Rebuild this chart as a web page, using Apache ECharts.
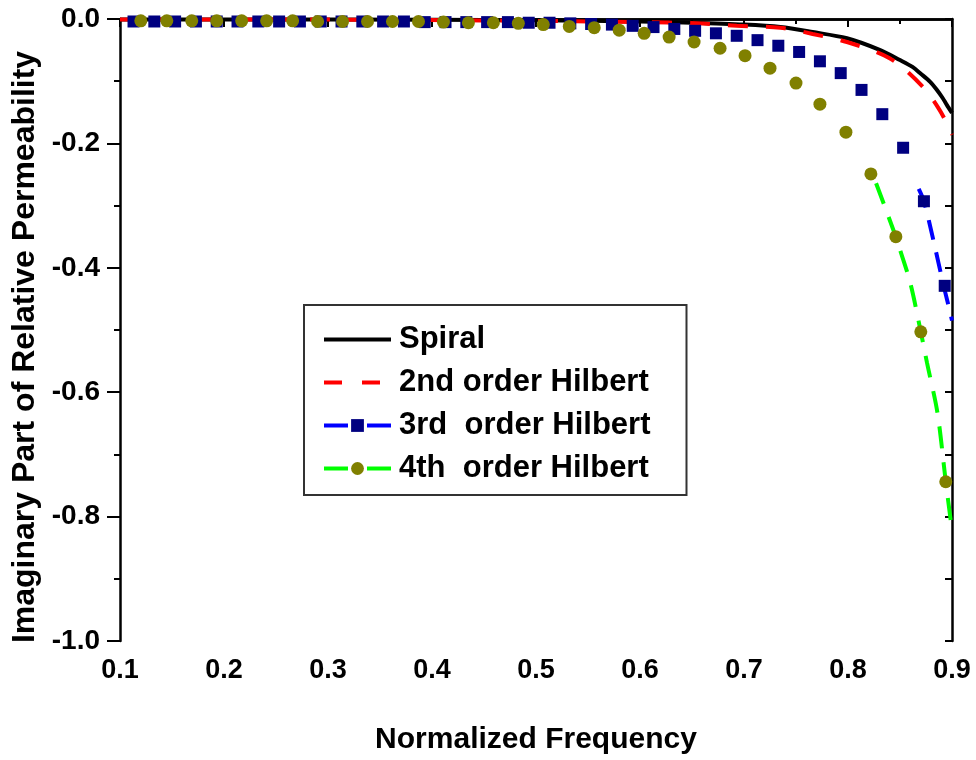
<!DOCTYPE html>
<html><head><meta charset="utf-8">
<script src="https://cdn.jsdelivr.net/npm/echarts@6/dist/echarts.min.js"></script>
<style>html,body{margin:0;padding:0;background:#fff}#c{width:976px;height:760px}</style>
</head><body><div id="c"></div>
<script>
var xTicks = ['0.1','0.2','0.3','0.4','0.5','0.6','0.7','0.8','0.9'];
var yTicks = ['-1.0','-0.8','-0.6','-0.4','-0.2','0.0'];
var seriesNames = ['Spiral','2nd order Hilbert','3rd  order Hilbert','4th  order Hilbert'];

var spiralX = [0.10,0.30,0.50,0.60,0.65,0.70,0.735,0.766,0.799,0.831,0.85,0.862,0.87,0.879,0.885,0.891,0.895,0.90];
var spiralY = [-0.001,-0.001,-0.002,-0.004,-0.006,-0.009,-0.013,-0.021,-0.031,-0.050,-0.066,-0.077,-0.088,-0.101,-0.113,-0.127,-0.138,-0.151];

var hil2X = [0.10,0.30,0.50,0.60,0.655,0.693,0.735,0.766,0.799,0.84,0.872,0.888,0.898,0.90];
var hil2Y = [-0.001,-0.001,-0.003,-0.005,-0.007,-0.011,-0.014,-0.024,-0.037,-0.063,-0.109,-0.146,-0.178,-0.186];

var hil3LineX = [0.868,0.873,0.882,0.892,0.898,0.90];
var hil3LineY = [-0.273,-0.293,-0.355,-0.429,-0.470,-0.485];

var hil3SymX = [0.113,0.133,0.153,0.173,0.193,0.213,0.233,0.253,0.273,0.293,0.313,0.333,0.353,0.373,0.393,0.413,0.433,0.453,0.473,0.493,0.513,0.533,0.553,0.573,0.593,0.613,0.633,0.653,0.673,0.693,0.713,0.733,0.753,0.773,0.793,0.813,0.833,0.853,0.873,0.893];
var hil3SymY = [-0.004,-0.004,-0.004,-0.004,-0.004,-0.004,-0.004,-0.004,-0.004,-0.004,-0.004,-0.004,-0.004,-0.004,-0.005,-0.005,-0.005,-0.005,-0.005,-0.006,-0.006,-0.007,-0.008,-0.009,-0.011,-0.013,-0.016,-0.019,-0.023,-0.027,-0.034,-0.043,-0.053,-0.068,-0.087,-0.114,-0.153,-0.207,-0.293,-0.429];

var hil4LineX = [0.827,0.846,0.850,0.860,0.870,0.876,0.886,0.894,0.90];
var hil4LineY = [-0.264,-0.350,-0.371,-0.425,-0.503,-0.553,-0.633,-0.744,-0.822];

var hil4SymX = [0.120,0.145,0.169,0.193,0.217,0.241,0.266,0.290,0.314,0.338,0.362,0.387,0.411,0.435,0.459,0.483,0.507,0.532,0.556,0.580,0.604,0.628,0.652,0.677,0.701,0.725,0.750,0.773,0.798,0.822,0.846,0.870,0.894];
var hil4SymY = [-0.003,-0.003,-0.003,-0.003,-0.003,-0.003,-0.003,-0.004,-0.004,-0.004,-0.004,-0.004,-0.005,-0.006,-0.006,-0.007,-0.009,-0.012,-0.014,-0.018,-0.023,-0.029,-0.037,-0.047,-0.059,-0.079,-0.103,-0.137,-0.182,-0.249,-0.350,-0.503,-0.744];

function pairs(xs, ys){ return xs.map(function(x,i){ return [x, ys[i]]; }); }

var FONT = '"Liberation Sans", Arial, sans-serif';
var chart = echarts.init(document.getElementById('c'), null, {renderer:'canvas'});
var axisLine = {show:true, lineStyle:{color:'#000', width:2.5}};
chart.setOption({
  animation:false,
  backgroundColor:'#fff',
  grid:{left:120, right:24, top:19, bottom:119, containLabel:false},
  legend:{
    orient:'vertical', left:304, top:305,
    padding:[19,36,11,18], itemGap:12,
    borderColor:'#333', borderWidth:2,
    itemWidth:67, itemHeight:16,
    textStyle:{fontFamily:FONT, fontWeight:'bold', fontSize:31, lineHeight:31, color:'#000', padding:[0,0,0,3]},
    data:[
      {name:seriesNames[0], itemStyle:{opacity:0}, lineStyle:{type:'solid', width:4, color:'#000'}},
      {name:seriesNames[1], itemStyle:{opacity:0}, lineStyle:{type:[18,20], width:4, color:'#ff0000'}},
      {name:seriesNames[2], lineStyle:{type:[24,19], width:4, color:'#0000ff'}},
      {name:seriesNames[3], lineStyle:{type:[24,19], width:4, color:'#00ff00'}}
    ]
  },
  xAxis:[{
    type:'value', min:0.1, max:0.9, interval:0.1, position:'bottom',
    axisLine:axisLine,
    axisTick:{show:true, inside:false, length:8, lineStyle:{color:'#000', width:2}},
    minorTick:{show:true, splitNumber:2, length:5, lineStyle:{color:'#000', width:2}},
    splitLine:{show:false},
    axisLabel:{formatter:function(v){ return xTicks[Math.round((v-0.1)*10)]; }, fontFamily:FONT, fontWeight:'bold', fontSize:27, color:'#000', margin:16},
    name:'Normalized Frequency', nameLocation:'middle', nameGap:84,
    nameTextStyle:{fontFamily:FONT, fontWeight:'bold', fontSize:30, color:'#000'}
  },{
    type:'value', min:0.1, max:0.9, interval:0.1, position:'top',
    axisLine:axisLine,
    axisTick:{show:true, inside:true, length:3, lineStyle:{color:'#000', width:1}},
    minorTick:{show:true, splitNumber:2, length:3, lineStyle:{color:'#000', width:1}},
    axisLabel:{show:false}, splitLine:{show:false}
  }],
  yAxis:[{
    type:'value', min:-1, max:0, interval:0.2, position:'left',
    axisLine:axisLine,
    axisTick:{show:true, inside:false, length:13, lineStyle:{color:'#000', width:2}},
    minorTick:{show:true, splitNumber:2, length:6, lineStyle:{color:'#000', width:2}},
    splitLine:{show:false},
    axisLabel:{formatter:function(v){ return yTicks[Math.round((v+1)*5)]; }, fontFamily:FONT, fontWeight:'bold', fontSize:28, color:'#000', margin:20},
    name:'Imaginary Part of Relative Permeability', nameLocation:'middle', nameGap:76, nameRotate:90,
    nameTextStyle:{fontFamily:FONT, fontWeight:'bold', fontSize:32, color:'#000', padding:[0,34,0,0]}
  },{
    type:'value', min:-1, max:0, interval:0.1, position:'right',
    axisLine:axisLine,
    axisTick:{show:true, inside:true, length:7, lineStyle:{color:'#000', width:2}},
    axisLabel:{show:false}, splitLine:{show:false}
  }],
  series:[
    {name:seriesNames[0], type:'line', data:pairs(spiralX, spiralY), smooth:0.3, symbol:'none', showSymbol:false,
     lineStyle:{color:'#000', width:4}, itemStyle:{color:'#000'}, z:3},
    {name:seriesNames[1], type:'line', data:pairs(hil2X, hil2Y), smooth:0.3, symbol:'none', showSymbol:false,
     lineStyle:{color:'#ff0000', width:4, type:[20,18]}, itemStyle:{color:'#ff0000'}, z:4},
    {name:seriesNames[2], type:'line', data:pairs(hil3LineX, hil3LineY), smooth:0.3, symbol:'rect', symbolSize:13, showSymbol:false,
     lineStyle:{color:'#0000ff', width:4, type:[20,13]}, itemStyle:{color:'#000080'}, z:3},
    {name:seriesNames[3], type:'line', data:pairs(hil4LineX, hil4LineY), smooth:0.3, symbol:'circle', symbolSize:13, showSymbol:false,
     lineStyle:{color:'#00ff00', width:4, type:[22,14]}, itemStyle:{color:'#808000'}, z:3},
    {name:'hil3sym', type:'scatter', data:pairs(hil3SymX, hil3SymY), symbol:'rect', symbolSize:12,
     itemStyle:{color:'#000080', opacity:1}, z:5},
    {name:'hil4sym', type:'scatter', data:pairs(hil4SymX, hil4SymY), symbol:'circle', symbolSize:13,
     itemStyle:{color:'#808000', opacity:1}, z:6}
  ]
});
</script></body></html>
